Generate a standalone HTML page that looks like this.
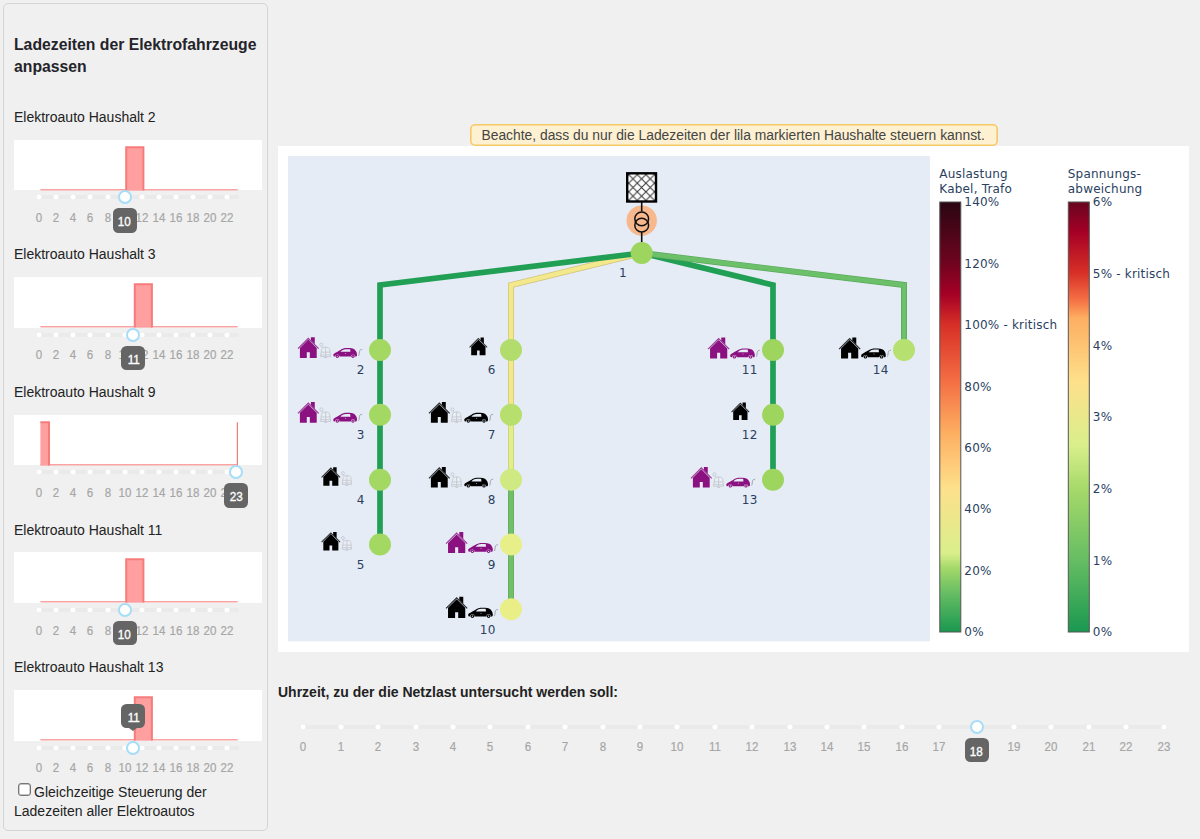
<!DOCTYPE html>
<html lang="de"><head><meta charset="utf-8"><title>Netzlast</title><style>
*{box-sizing:border-box;margin:0;padding:0}
html,body{width:1200px;height:839px;overflow:hidden;background:#f0f0f0;font-family:"Liberation Sans", sans-serif;color:#222}
.abs{position:absolute}
#side{position:absolute;left:3.4px;top:3.4px;width:264.6px;height:827.2px;border:1.2px solid #d4d4d4;border-radius:5px;background:#f0f0f0}
.title{position:absolute;left:14px;font-weight:bold;font-size:15.75px;line-height:22.1px;color:#24242a;white-space:nowrap;letter-spacing:0}
.lbl{position:absolute;left:14px;font-size:14px;line-height:18px;color:#222;white-space:nowrap}
.chart{position:absolute;left:14px;width:248px;height:50.5px;background:#fff}
.rail{position:absolute;height:4px;background:#eaeaea;border-radius:2px}
.dot{position:absolute;width:8px;height:8px;border-radius:50%;background:#fff;border:1.5px solid #ececec;transform:scale(0.85)}
.handle{position:absolute;width:14px;height:14px;border-radius:50%;background:#fff;border:2px solid #a6ddf8}
.mark{position:absolute;font-size:13.4px;line-height:16px;color:#a6a6a6;-webkit-text-stroke:0.2px #a6a6a6;white-space:nowrap;transform:translateX(-50%) scaleX(0.86);text-align:center}
.tip{position:absolute;width:24.4px;height:24.4px;border-radius:5.5px;background:#656565;color:#fff;font-size:13px;line-height:27.6px;text-align:center;overflow:hidden;-webkit-text-stroke:0.35px #fff}
.tip span{display:inline-block;transform:scaleX(0.9)}
.banner{position:absolute;left:469.6px;top:124px;width:528.6px;height:22px;box-shadow:inset 0 0 0 1.6px #f6c966;border-radius:5px;background:#fdf1d2;font-size:13.85px;line-height:19px;color:#454545;white-space:nowrap;padding-left:11.9px;padding-top:2.4px}
#plot{position:absolute;left:278px;top:146px;width:911px;height:506px;background:#fff}
.hdr{position:absolute;left:278px;top:682.5px;font-weight:bold;font-size:14px;line-height:18px;color:#222;white-space:nowrap}
.cbx{position:absolute;left:18.1px;top:783.1px;width:13.4px;height:13.4px;border:1px solid #767676;box-shadow:inset 0 0 0 0.4px #8a8a8a;border-radius:3px;background:#fff}
</style></head><body>
<div id="side"></div>
<div class="title" style="top:33.8px">Ladezeiten der Elektrofahrzeuge<br>anpassen</div>
<div class="lbl" style="top:107.6px">Elektroauto Haushalt 2</div>
<div class="chart" style="top:139.6px"></div>
<svg class="abs" style="left:0;top:139.6px" width="270" height="52" viewBox="0 0 270 52"><path d="M40.4,49.75 H237.7" fill="none" stroke="#f9a3a3" stroke-width="1.4"/><rect x="126.2" y="7.2" width="17.2" height="43.2" fill="#ff9f9f"/><path d="M126.2,50.45 V7.2 H143.4 V50.45" fill="none" stroke="#f67c7c" stroke-width="2" stroke-linejoin="miter"/></svg>
<div class="rail" style="left:36.0px;top:195.1px;width:202.9px"></div>
<div class="dot" style="left:35.0px;top:193.1px"></div>
<div class="mark" style="left:39.0px;top:209.7px">0</div>
<div class="dot" style="left:52.1px;top:193.1px"></div>
<div class="mark" style="left:56.1px;top:209.7px">2</div>
<div class="dot" style="left:69.2px;top:193.1px"></div>
<div class="mark" style="left:73.2px;top:209.7px">4</div>
<div class="dot" style="left:86.4px;top:193.1px"></div>
<div class="mark" style="left:90.4px;top:209.7px">6</div>
<div class="dot" style="left:103.5px;top:193.1px"></div>
<div class="mark" style="left:107.5px;top:209.7px">8</div>
<div class="dot" style="left:120.6px;top:193.1px"></div>
<div class="mark" style="left:124.6px;top:209.7px">10</div>
<div class="dot" style="left:137.7px;top:193.1px"></div>
<div class="mark" style="left:141.7px;top:209.7px">12</div>
<div class="dot" style="left:154.8px;top:193.1px"></div>
<div class="mark" style="left:158.8px;top:209.7px">14</div>
<div class="dot" style="left:172.0px;top:193.1px"></div>
<div class="mark" style="left:176.0px;top:209.7px">16</div>
<div class="dot" style="left:189.1px;top:193.1px"></div>
<div class="mark" style="left:193.1px;top:209.7px">18</div>
<div class="dot" style="left:206.2px;top:193.1px"></div>
<div class="mark" style="left:210.2px;top:209.7px">20</div>
<div class="dot" style="left:223.3px;top:193.1px"></div>
<div class="mark" style="left:227.3px;top:209.7px">22</div>
<div class="handle" style="left:117.6px;top:190.1px"></div>
<div class="tip" style="left:112.5px;top:208.2px"><span>10</span></div>
<div class="lbl" style="top:245.3px">Elektroauto Haushalt 3</div>
<div class="chart" style="top:277.2px"></div>
<svg class="abs" style="left:0;top:277.2px" width="270" height="52" viewBox="0 0 270 52"><path d="M40.4,49.75 H237.7" fill="none" stroke="#f9a3a3" stroke-width="1.4"/><rect x="134.8" y="7.2" width="17.2" height="43.2" fill="#ff9f9f"/><path d="M134.8,50.45 V7.2 H151.9 V50.45" fill="none" stroke="#f67c7c" stroke-width="2" stroke-linejoin="miter"/></svg>
<div class="rail" style="left:36.0px;top:332.7px;width:202.9px"></div>
<div class="dot" style="left:35.0px;top:330.7px"></div>
<div class="mark" style="left:39.0px;top:347.3px">0</div>
<div class="dot" style="left:52.1px;top:330.7px"></div>
<div class="mark" style="left:56.1px;top:347.3px">2</div>
<div class="dot" style="left:69.2px;top:330.7px"></div>
<div class="mark" style="left:73.2px;top:347.3px">4</div>
<div class="dot" style="left:86.4px;top:330.7px"></div>
<div class="mark" style="left:90.4px;top:347.3px">6</div>
<div class="dot" style="left:103.5px;top:330.7px"></div>
<div class="mark" style="left:107.5px;top:347.3px">8</div>
<div class="dot" style="left:120.6px;top:330.7px"></div>
<div class="mark" style="left:124.6px;top:347.3px">10</div>
<div class="dot" style="left:137.7px;top:330.7px"></div>
<div class="mark" style="left:141.7px;top:347.3px">12</div>
<div class="dot" style="left:154.8px;top:330.7px"></div>
<div class="mark" style="left:158.8px;top:347.3px">14</div>
<div class="dot" style="left:172.0px;top:330.7px"></div>
<div class="mark" style="left:176.0px;top:347.3px">16</div>
<div class="dot" style="left:189.1px;top:330.7px"></div>
<div class="mark" style="left:193.1px;top:347.3px">18</div>
<div class="dot" style="left:206.2px;top:330.7px"></div>
<div class="mark" style="left:210.2px;top:347.3px">20</div>
<div class="dot" style="left:223.3px;top:330.7px"></div>
<div class="mark" style="left:227.3px;top:347.3px">22</div>
<div class="handle" style="left:126.2px;top:327.7px"></div>
<div class="tip" style="left:121.1px;top:345.8px"><span>11</span></div>
<div class="lbl" style="top:383.0px">Elektroauto Haushalt 9</div>
<div class="chart" style="top:414.8px"></div>
<svg class="abs" style="left:0;top:414.8px" width="270" height="52" viewBox="0 0 270 52"><path d="M40.4,49.75 H237.7" fill="none" stroke="#f9a3a3" stroke-width="1.4"/><rect x="40.4" y="7.2" width="8.6" height="43.2" fill="#ff9f9f"/><path d="M40.4,7.2 H49.0 V50.45" fill="none" stroke="#f67c7c" stroke-width="2" stroke-linejoin="miter"/><path d="M237.4,50.45 V7.2" fill="none" stroke="#f67c7c" stroke-width="1.2"/></svg>
<div class="rail" style="left:36.0px;top:470.3px;width:202.9px"></div>
<div class="dot" style="left:35.0px;top:468.3px"></div>
<div class="mark" style="left:39.0px;top:484.90000000000003px">0</div>
<div class="dot" style="left:52.1px;top:468.3px"></div>
<div class="mark" style="left:56.1px;top:484.90000000000003px">2</div>
<div class="dot" style="left:69.2px;top:468.3px"></div>
<div class="mark" style="left:73.2px;top:484.90000000000003px">4</div>
<div class="dot" style="left:86.4px;top:468.3px"></div>
<div class="mark" style="left:90.4px;top:484.90000000000003px">6</div>
<div class="dot" style="left:103.5px;top:468.3px"></div>
<div class="mark" style="left:107.5px;top:484.90000000000003px">8</div>
<div class="dot" style="left:120.6px;top:468.3px"></div>
<div class="mark" style="left:124.6px;top:484.90000000000003px">10</div>
<div class="dot" style="left:137.7px;top:468.3px"></div>
<div class="mark" style="left:141.7px;top:484.90000000000003px">12</div>
<div class="dot" style="left:154.8px;top:468.3px"></div>
<div class="mark" style="left:158.8px;top:484.90000000000003px">14</div>
<div class="dot" style="left:172.0px;top:468.3px"></div>
<div class="mark" style="left:176.0px;top:484.90000000000003px">16</div>
<div class="dot" style="left:189.1px;top:468.3px"></div>
<div class="mark" style="left:193.1px;top:484.90000000000003px">18</div>
<div class="dot" style="left:206.2px;top:468.3px"></div>
<div class="mark" style="left:210.2px;top:484.90000000000003px">20</div>
<div class="dot" style="left:223.3px;top:468.3px"></div>
<div class="mark" style="left:227.3px;top:484.90000000000003px">22</div>
<div class="handle" style="left:228.9px;top:465.3px"></div>
<div class="tip" style="left:223.8px;top:483.40000000000003px"><span>23</span></div>
<div class="lbl" style="top:520.7px">Elektroauto Haushalt 11</div>
<div class="chart" style="top:552.4px"></div>
<svg class="abs" style="left:0;top:552.4px" width="270" height="52" viewBox="0 0 270 52"><path d="M40.4,49.75 H237.7" fill="none" stroke="#f9a3a3" stroke-width="1.4"/><rect x="126.2" y="7.2" width="17.2" height="43.2" fill="#ff9f9f"/><path d="M126.2,50.45 V7.2 H143.4 V50.45" fill="none" stroke="#f67c7c" stroke-width="2" stroke-linejoin="miter"/></svg>
<div class="rail" style="left:36.0px;top:607.9px;width:202.9px"></div>
<div class="dot" style="left:35.0px;top:605.9px"></div>
<div class="mark" style="left:39.0px;top:622.5px">0</div>
<div class="dot" style="left:52.1px;top:605.9px"></div>
<div class="mark" style="left:56.1px;top:622.5px">2</div>
<div class="dot" style="left:69.2px;top:605.9px"></div>
<div class="mark" style="left:73.2px;top:622.5px">4</div>
<div class="dot" style="left:86.4px;top:605.9px"></div>
<div class="mark" style="left:90.4px;top:622.5px">6</div>
<div class="dot" style="left:103.5px;top:605.9px"></div>
<div class="mark" style="left:107.5px;top:622.5px">8</div>
<div class="dot" style="left:120.6px;top:605.9px"></div>
<div class="mark" style="left:124.6px;top:622.5px">10</div>
<div class="dot" style="left:137.7px;top:605.9px"></div>
<div class="mark" style="left:141.7px;top:622.5px">12</div>
<div class="dot" style="left:154.8px;top:605.9px"></div>
<div class="mark" style="left:158.8px;top:622.5px">14</div>
<div class="dot" style="left:172.0px;top:605.9px"></div>
<div class="mark" style="left:176.0px;top:622.5px">16</div>
<div class="dot" style="left:189.1px;top:605.9px"></div>
<div class="mark" style="left:193.1px;top:622.5px">18</div>
<div class="dot" style="left:206.2px;top:605.9px"></div>
<div class="mark" style="left:210.2px;top:622.5px">20</div>
<div class="dot" style="left:223.3px;top:605.9px"></div>
<div class="mark" style="left:227.3px;top:622.5px">22</div>
<div class="handle" style="left:117.6px;top:602.9px"></div>
<div class="tip" style="left:112.5px;top:621.0px"><span>10</span></div>
<div class="lbl" style="top:658.4px">Elektroauto Haushalt 13</div>
<div class="chart" style="top:690.0px"></div>
<svg class="abs" style="left:0;top:690.0px" width="270" height="52" viewBox="0 0 270 52"><path d="M40.4,49.75 H237.7" fill="none" stroke="#f9a3a3" stroke-width="1.4"/><rect x="134.8" y="7.2" width="17.2" height="43.2" fill="#ff9f9f"/><path d="M134.8,50.45 V7.2 H151.9 V50.45" fill="none" stroke="#f67c7c" stroke-width="2" stroke-linejoin="miter"/></svg>
<div class="rail" style="left:36.0px;top:745.5px;width:202.9px"></div>
<div class="dot" style="left:35.0px;top:743.5px"></div>
<div class="mark" style="left:39.0px;top:760.1px">0</div>
<div class="dot" style="left:52.1px;top:743.5px"></div>
<div class="mark" style="left:56.1px;top:760.1px">2</div>
<div class="dot" style="left:69.2px;top:743.5px"></div>
<div class="mark" style="left:73.2px;top:760.1px">4</div>
<div class="dot" style="left:86.4px;top:743.5px"></div>
<div class="mark" style="left:90.4px;top:760.1px">6</div>
<div class="dot" style="left:103.5px;top:743.5px"></div>
<div class="mark" style="left:107.5px;top:760.1px">8</div>
<div class="dot" style="left:120.6px;top:743.5px"></div>
<div class="mark" style="left:124.6px;top:760.1px">10</div>
<div class="dot" style="left:137.7px;top:743.5px"></div>
<div class="mark" style="left:141.7px;top:760.1px">12</div>
<div class="dot" style="left:154.8px;top:743.5px"></div>
<div class="mark" style="left:158.8px;top:760.1px">14</div>
<div class="dot" style="left:172.0px;top:743.5px"></div>
<div class="mark" style="left:176.0px;top:760.1px">16</div>
<div class="dot" style="left:189.1px;top:743.5px"></div>
<div class="mark" style="left:193.1px;top:760.1px">18</div>
<div class="dot" style="left:206.2px;top:743.5px"></div>
<div class="mark" style="left:210.2px;top:760.1px">20</div>
<div class="dot" style="left:223.3px;top:743.5px"></div>
<div class="mark" style="left:227.3px;top:760.1px">22</div>
<div class="handle" style="left:126.2px;top:740.5px"></div>
<div class="tip" style="left:121.1px;top:704.1px"><span>11</span></div>
<div class="abs" style="left:129.2px;top:728.3px;width:0;height:0;border-left:4px solid transparent;border-right:4px solid transparent;border-top:3.6px solid #656565"></div>
<div class="cbx"></div>
<div class="lbl" style="left:34px;top:782.8px">Gleichzeitige Steuerung der</div>
<div class="lbl" style="left:14px;top:802.2px">Ladezeiten aller Elektroautos</div>
<div class="banner">Beachte, dass du nur die Ladezeiten der lila markierten Haushalte steuern kannst.</div>
<div id="plot"></div>
<svg class="abs" style="left:278px;top:146px" width="911" height="506" viewBox="278 146 911 506" font-family='"DejaVu Sans", "Liberation Sans", sans-serif' font-size="12" fill="#2a3f5f" letter-spacing="0.2">
<defs>
<linearGradient id="g1" x1="0" y1="1" x2="0" y2="0">
<stop offset="0" stop-color="#1a9850"/>
<stop offset="0.09" stop-color="#66bd63"/>
<stop offset="0.15" stop-color="#a6d96a"/>
<stop offset="0.183" stop-color="#d9ef8b"/>
<stop offset="0.335" stop-color="#fee08b"/>
<stop offset="0.464" stop-color="#fdae61"/>
<stop offset="0.586" stop-color="#f46d43"/>
<stop offset="0.714" stop-color="#d73027"/>
<stop offset="0.786" stop-color="#a50026"/>
<stop offset="0.857" stop-color="#70041f"/>
<stop offset="1" stop-color="#2a0612"/>
</linearGradient>
<linearGradient id="g2" x1="0" y1="1" x2="0" y2="0">
<stop offset="0" stop-color="#1a9850"/>
<stop offset="0.1667" stop-color="#66bd63"/>
<stop offset="0.3333" stop-color="#a6d96a"/>
<stop offset="0.433" stop-color="#d9ef8b"/>
<stop offset="0.583" stop-color="#fee08b"/>
<stop offset="0.73" stop-color="#fdae61"/>
<stop offset="0.775" stop-color="#f46d43"/>
<stop offset="0.835" stop-color="#d73027"/>
<stop offset="0.93" stop-color="#a50026"/>
<stop offset="1" stop-color="#680520"/>
</linearGradient>
<pattern id="hatch" width="8.6" height="8.6" patternUnits="userSpaceOnUse" patternTransform="translate(628.7 174.6)">
<path d="M0,0 L8.6,8.6 M8.6,0 L0,8.6" stroke="#333" stroke-width="1"/>
</pattern>
<g id="house"><path d="M50,1 L0,51 L4,55 L50,9 L96,55 L100,51 Z" opacity="0.8"/><path d="M62,0 H80 V32 L62,14 Z"/><path d="M50,11.2 L11,50.2 V96 H43 V70 H57 V96 H89 V50.2 Z"/></g>
<g id="car"><path fill-rule="evenodd" d="M1,36 C-1,30 0,26 4,24 C10,20 20,15 30,9 C38,3 46,1 58,1 C72,1 84,2 91,8 C97,14 100,22 100,28 C100,33 99,36 97,37 L92,37 A9,9 0 0 0 74,37 L26,37 A9,9 0 0 0 8,37 Z M30,17 C36,10 43,5.8 53,5.5 L71,5.5 L72.5,17 Z"/><circle cx="17" cy="35.5" r="7"/><circle cx="83" cy="35.5" r="7"/><circle cx="17" cy="35.5" r="2.6" fill="#e5ecf6"/><circle cx="83" cy="35.5" r="2.6" fill="#e5ecf6"/><circle cx="52" cy="24" r="2" fill="#e5ecf6"/></g>
<g id="plug"><path d="M0.5,8.5 C1.3,7.5 1.2,3.5 1.8,2.2 C2.2,1.3 3.5,1.2 4.6,1" fill="none" stroke="#9a9aa4" stroke-width="1.05"/></g>
<g id="hp" fill="none" stroke="#c3c6cf" stroke-width="0.85"><circle cx="2.1" cy="2.1" r="1.6"/><path d="M2.6,3.6 L3.2,5.2"/><path d="M1.2,14 L2.3,6.8 Q2.6,4.7 6.2,4.5 Q10,4.5 10.4,6.6 L11.3,14 Z" fill="#e9edf4"/><path d="M1.8,9.6 H10.8 M6.3,4.6 V14 M1.4,12.3 H11"/><path d="M5,15 H7.6" stroke-width="1"/></g>
</defs>
<rect x="288" y="156" width="642" height="485.3" fill="#e5ecf6"/>
<path d="M641.7,253 L511,285 L511,414.8" fill="none" stroke="#cfc27a" stroke-width="6" stroke-linejoin="miter"/>
<path d="M641.7,253 L511,285 L511,414.8" fill="none" stroke="#f3e88b" stroke-width="4.6" stroke-linejoin="miter"/>
<path d="M511,414.8 L511,479.7" fill="none" stroke="#c0cc7c" stroke-width="6" stroke-linejoin="miter"/>
<path d="M511,414.8 L511,479.7" fill="none" stroke="#e3ee8a" stroke-width="4.6" stroke-linejoin="miter"/>
<path d="M511,479.7 L511,609.3" fill="none" stroke="#63aa60" stroke-width="6" stroke-linejoin="miter"/>
<path d="M511,479.7 L511,609.3" fill="none" stroke="#72bf69" stroke-width="4.6" stroke-linejoin="miter"/>
<path d="M641.7,253 L380,285 L380,544.5" fill="none" stroke="#219f55" stroke-width="5.7" stroke-linejoin="miter"/>
<path d="M641.7,253 L773,285 L773,479.7" fill="none" stroke="#219f55" stroke-width="5.7" stroke-linejoin="miter"/>
<path d="M641.7,253 L904,285 L904,350" fill="none" stroke="#5aa95a" stroke-width="6" stroke-linejoin="miter"/>
<path d="M641.7,253 L904,285 L904,350" fill="none" stroke="#6cc06a" stroke-width="4.6" stroke-linejoin="miter"/>
<circle cx="641.7" cy="220.6" r="15.2" fill="#f6b88c"/>
<path d="M641.7,202 V211.6 M641.7,232 V243" stroke="#111" stroke-width="1.6" fill="none"/>
<circle cx="641.7" cy="218.8" r="6.9" fill="none" stroke="#111" stroke-width="1.5"/>
<circle cx="641.7" cy="225.2" r="6.9" fill="none" stroke="#111" stroke-width="1.5"/>
<rect x="627.2" y="173.3" width="28.8" height="28.2" fill="#fff"/>
<rect x="627.2" y="173.3" width="28.8" height="28.2" fill="url(#hatch)" stroke="#000" stroke-width="2.4"/>
<circle cx="641.7" cy="253" r="11" fill="#9dd55f"/>
<text x="623" y="277.3" text-anchor="middle">1</text>
<circle cx="380" cy="350" r="11" fill="#a3d862"/>
<text x="364.5" y="374.3" text-anchor="end">2</text>
<circle cx="380" cy="414.8" r="11" fill="#a3d862"/>
<text x="364.5" y="439.1" text-anchor="end">3</text>
<circle cx="380" cy="479.7" r="11" fill="#a3d862"/>
<text x="364.5" y="504.0" text-anchor="end">4</text>
<circle cx="380" cy="544.5" r="11" fill="#a3d862"/>
<text x="364.5" y="568.8" text-anchor="end">5</text>
<circle cx="511" cy="350" r="11" fill="#b2dd6c"/>
<text x="495.5" y="374.3" text-anchor="end">6</text>
<circle cx="511" cy="414.8" r="11" fill="#b6df6e"/>
<text x="495.5" y="439.1" text-anchor="end">7</text>
<circle cx="511" cy="479.7" r="11" fill="#cfea82"/>
<text x="495.5" y="504.0" text-anchor="end">8</text>
<circle cx="511" cy="544.5" r="11" fill="#e6ef88"/>
<text x="495.5" y="568.8" text-anchor="end">9</text>
<circle cx="511" cy="609.3" r="11" fill="#e9ee87"/>
<text x="495.5" y="633.5999999999999" text-anchor="end">10</text>
<circle cx="773" cy="350" r="11" fill="#9dd55f"/>
<text x="757.5" y="374.3" text-anchor="end">11</text>
<circle cx="773" cy="414.8" r="11" fill="#9dd55f"/>
<text x="757.5" y="439.1" text-anchor="end">12</text>
<circle cx="773" cy="479.7" r="11" fill="#9dd55f"/>
<text x="757.5" y="504.0" text-anchor="end">13</text>
<circle cx="904" cy="350" r="11" fill="#b6e070"/>
<text x="888.5" y="374.3" text-anchor="end">14</text>
<use href="#house" fill="#8b1180" transform="translate(297.52,337.19) scale(0.2157)"/>
<use href="#hp" transform="translate(319.30,342.60) scale(1.000)"/>
<use href="#car" fill="#8b1180" transform="translate(333.30,347.83) scale(0.2370)"/>
<use href="#plug" transform="translate(358.20,348.67) scale(0.85)"/>
<use href="#house" fill="#8b1180" transform="translate(297.52,401.99) scale(0.2157)"/>
<use href="#hp" transform="translate(319.30,407.40) scale(1.000)"/>
<use href="#car" fill="#8b1180" transform="translate(333.30,412.63) scale(0.2370)"/>
<use href="#plug" transform="translate(358.20,413.47) scale(0.85)"/>
<use href="#house" fill="#000" transform="translate(321.19,467.16) scale(0.1931)"/>
<use href="#hp" transform="translate(340.92,471.21) scale(0.947)"/>
<use href="#house" fill="#000" transform="translate(321.19,531.96) scale(0.1931)"/>
<use href="#hp" transform="translate(340.92,536.01) scale(0.947)"/>
<use href="#house" fill="#000" transform="translate(469.18,337.60) scale(0.1833)"/>
<use href="#house" fill="#000" transform="translate(428.52,401.99) scale(0.2157)"/>
<use href="#hp" transform="translate(450.30,407.40) scale(1.000)"/>
<use href="#car" fill="#000" transform="translate(464.30,412.63) scale(0.2370)"/>
<use href="#plug" transform="translate(489.20,413.47) scale(0.85)"/>
<use href="#house" fill="#000" transform="translate(428.52,466.89) scale(0.2157)"/>
<use href="#hp" transform="translate(450.30,472.30) scale(1.000)"/>
<use href="#car" fill="#000" transform="translate(464.30,477.53) scale(0.2370)"/>
<use href="#plug" transform="translate(489.20,478.37) scale(0.85)"/>
<use href="#house" fill="#8b1180" transform="translate(445.62,531.92) scale(0.2206)"/>
<use href="#car" fill="#8b1180" transform="translate(468.20,542.64) scale(0.2460)"/>
<use href="#plug" transform="translate(494.00,543.88) scale(0.85)"/>
<use href="#house" fill="#000" transform="translate(445.62,596.72) scale(0.2206)"/>
<use href="#car" fill="#000" transform="translate(468.20,607.44) scale(0.2460)"/>
<use href="#plug" transform="translate(494.00,608.67) scale(0.85)"/>
<use href="#house" fill="#8b1180" transform="translate(707.62,337.42) scale(0.2206)"/>
<use href="#car" fill="#8b1180" transform="translate(730.20,348.15) scale(0.2460)"/>
<use href="#plug" transform="translate(756.00,349.38) scale(0.85)"/>
<use href="#house" fill="#000" transform="translate(731.18,402.40) scale(0.1833)"/>
<use href="#house" fill="#8b1180" transform="translate(690.52,466.89) scale(0.2157)"/>
<use href="#hp" transform="translate(712.30,472.30) scale(1.000)"/>
<use href="#car" fill="#8b1180" transform="translate(726.30,477.53) scale(0.2370)"/>
<use href="#plug" transform="translate(751.20,478.37) scale(0.85)"/>
<use href="#house" fill="#000" transform="translate(838.62,337.42) scale(0.2206)"/>
<use href="#car" fill="#000" transform="translate(861.20,348.15) scale(0.2460)"/>
<use href="#plug" transform="translate(887.00,349.38) scale(0.85)"/>
<rect x="939.8" y="202" width="21" height="430" fill="url(#g1)" stroke="#555" stroke-width="1"/>
<text x="939.3" y="178">Auslastung</text><text x="939.3" y="193">Kabel, Trafo</text>
<text x="964.3" y="636.3">0%</text>
<text x="964.3" y="574.9">20%</text>
<text x="964.3" y="513.4">40%</text>
<text x="964.3" y="452.0">60%</text>
<text x="964.3" y="390.6">80%</text>
<text x="964.3" y="329.2">100% - kritisch</text>
<text x="964.3" y="267.7">120%</text>
<text x="964.3" y="206.3">140%</text>
<rect x="1068.3" y="202" width="21" height="430" fill="url(#g2)" stroke="#555" stroke-width="1"/>
<text x="1067.8" y="178">Spannungs-</text><text x="1067.8" y="193">abweichung</text>
<text x="1092.8" y="636.3">0%</text>
<text x="1092.8" y="564.6">1%</text>
<text x="1092.8" y="493.0">2%</text>
<text x="1092.8" y="421.3">3%</text>
<text x="1092.8" y="349.6">4%</text>
<text x="1092.8" y="277.9">5% - kritisch</text>
<text x="1092.8" y="206.3">6%</text>
</svg>
<div class="hdr">Uhrzeit, zu der die Netzlast untersucht werden soll:</div>
<div class="rail" style="left:299.3px;top:724.7px;width:868.2px"></div>
<div class="dot" style="left:299.3px;top:722.7px"></div>
<div class="mark" style="left:303.3px;top:738.9000000000001px">0</div>
<div class="dot" style="left:336.7px;top:722.7px"></div>
<div class="mark" style="left:340.7px;top:738.9000000000001px">1</div>
<div class="dot" style="left:374.1px;top:722.7px"></div>
<div class="mark" style="left:378.1px;top:738.9000000000001px">2</div>
<div class="dot" style="left:411.5px;top:722.7px"></div>
<div class="mark" style="left:415.5px;top:738.9000000000001px">3</div>
<div class="dot" style="left:448.9px;top:722.7px"></div>
<div class="mark" style="left:452.9px;top:738.9000000000001px">4</div>
<div class="dot" style="left:486.3px;top:722.7px"></div>
<div class="mark" style="left:490.3px;top:738.9000000000001px">5</div>
<div class="dot" style="left:523.7px;top:722.7px"></div>
<div class="mark" style="left:527.7px;top:738.9000000000001px">6</div>
<div class="dot" style="left:561.1px;top:722.7px"></div>
<div class="mark" style="left:565.1px;top:738.9000000000001px">7</div>
<div class="dot" style="left:598.5px;top:722.7px"></div>
<div class="mark" style="left:602.5px;top:738.9000000000001px">8</div>
<div class="dot" style="left:635.9px;top:722.7px"></div>
<div class="mark" style="left:639.9px;top:738.9000000000001px">9</div>
<div class="dot" style="left:673.3px;top:722.7px"></div>
<div class="mark" style="left:677.3px;top:738.9000000000001px">10</div>
<div class="dot" style="left:710.7px;top:722.7px"></div>
<div class="mark" style="left:714.7px;top:738.9000000000001px">11</div>
<div class="dot" style="left:748.1px;top:722.7px"></div>
<div class="mark" style="left:752.1px;top:738.9000000000001px">12</div>
<div class="dot" style="left:785.5px;top:722.7px"></div>
<div class="mark" style="left:789.5px;top:738.9000000000001px">13</div>
<div class="dot" style="left:822.9px;top:722.7px"></div>
<div class="mark" style="left:826.9px;top:738.9000000000001px">14</div>
<div class="dot" style="left:860.3px;top:722.7px"></div>
<div class="mark" style="left:864.3px;top:738.9000000000001px">15</div>
<div class="dot" style="left:897.7px;top:722.7px"></div>
<div class="mark" style="left:901.7px;top:738.9000000000001px">16</div>
<div class="dot" style="left:935.1px;top:722.7px"></div>
<div class="mark" style="left:939.1px;top:738.9000000000001px">17</div>
<div class="dot" style="left:972.5px;top:722.7px"></div>
<div class="mark" style="left:976.5px;top:738.9000000000001px">18</div>
<div class="dot" style="left:1009.9px;top:722.7px"></div>
<div class="mark" style="left:1013.9px;top:738.9000000000001px">19</div>
<div class="dot" style="left:1047.3px;top:722.7px"></div>
<div class="mark" style="left:1051.3px;top:738.9000000000001px">20</div>
<div class="dot" style="left:1084.7px;top:722.7px"></div>
<div class="mark" style="left:1088.7px;top:738.9000000000001px">21</div>
<div class="dot" style="left:1122.1px;top:722.7px"></div>
<div class="mark" style="left:1126.1px;top:738.9000000000001px">22</div>
<div class="dot" style="left:1159.5px;top:722.7px"></div>
<div class="mark" style="left:1163.5px;top:738.9000000000001px">23</div>
<div class="handle" style="left:969.5px;top:719.7px"></div>
<div class="tip" style="left:964.5px;top:737.5px"><span>18</span></div>
</body></html>
